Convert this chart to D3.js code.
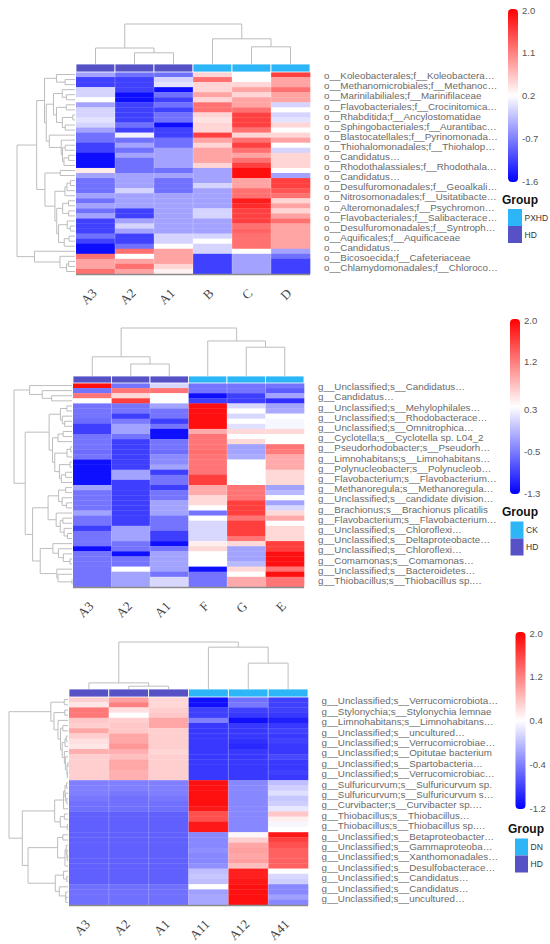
<!DOCTYPE html>
<html>
<head>
<meta charset="utf-8">
<script src="https://cdn.jsdelivr.net/npm/d3@7"></script>
<style>
body { margin: 0; background: #fff; }
</style>
</head>
<body>
<div id="chart"></div>
<script>
// ---------- data ----------
var cols1 = ['A3', 'A2', 'A1', 'B', 'C', 'D']
var groups1 = ['HD', 'HD', 'HD', 'PXHD', 'PXHD', 'PXHD']
var range1 = [-1.6, 2.0]
var ticks1 = [-1.6, -0.7, 0.2, 1.1, 2.0]
var colTree1 = [[0, [1, 2, 0.28], 0.40], [3, [4, 5, 0.43], 0.63], 1.0]
var labels1 = [
	'o__Koleobacterales;f__Koleobactera…',
	'o__Methanomicrobiales;f__Methanoc…',
	'o__Marinilabiliales;f__Marinifilaceae',
	'o__Flavobacteriales;f__Crocinitomica…',
	'o__Rhabditida;f__Ancylostomatidae',
	'o__Sphingobacteriales;f__Aurantibac…',
	'o__Blastocatellales;f__Pyrinomonada…',
	'o__Thiohalomonadales;f__Thiohalop…',
	'o__Candidatus…',
	'o__Rhodothalassiales;f__Rhodothala…',
	'o__Candidatus…',
	'o__Desulfuromonadales;f__Geoalkali…',
	'o__Nitrosomonadales;f__Usitatibacte…',
	'o__Alteromonadales;f__Psychromon…',
	'o__Flavobacteriales;f__Salibacterace…',
	'o__Desulfuromonadales;f__Syntroph…',
	'o__Aquificales;f__Aquificaceae',
	'o__Candidatus…',
	'o__Bicosoecida;f__Cafeteriaceae',
	'o__Chlamydomonadales;f__Chloroco…'
]
var values1 = [
	[-0.45, -0.8, -0.8, 0.5, 0.2, 1.55],
	[-1.15, -1.15, -0.1, 1.2, 0.2, 0.85],
	[-1.15, -1.15, 0.0, 0.5, 0.5, 0.85],
	[-0.1, -1.15, -1.5, 0.5, 0.85, 1.2],
	[-0.1, -1.5, -0.8, 0.85, 0.5, 0.85],
	[0.2, -1.5, -1.15, 0.5, 0.85, 0.85],
	[-0.45, -1.15, -0.8, 1.2, 0.85, -0.1],
	[-0.1, -1.15, -1.15, 1.2, 1.2, 0.2],
	[-0.1, -1.15, -0.8, 0.5, 1.55, -0.1],
	[0.0, -1.15, -0.8, 0.4, 1.55, 0.0],
	[-0.1, -0.8, -1.5, 0.5, 1.55, 0.5],
	[-0.45, -1.15, -1.15, 0.5, 1.2, 0.2],
	[-0.8, 0.1, -1.15, 1.55, 0.5, 0.5],
	[-0.8, -0.8, -0.8, 0.85, 1.2, 0.85],
	[-1.15, -0.45, -0.8, 0.5, 1.55, 0.2],
	[-1.15, -0.8, -0.45, 0.85, 1.2, -0.1],
	[-1.5, -0.45, -0.45, 0.85, 0.85, 0.5],
	[-1.5, -0.8, -0.45, 0.85, 1.2, 0.5],
	[-1.5, -0.8, -0.45, 0.5, 1.55, 0.5],
	[0.35, -0.8, -0.8, -0.45, 1.9, 0.2],
	[-0.45, -0.45, -0.45, -0.45, 1.9, -0.45],
	[-0.8, -0.45, -0.8, -0.45, 0.85, 1.55],
	[-0.8, -0.45, -0.8, -0.1, 0.85, 1.55],
	[-0.8, -0.1, -0.8, -0.45, 1.2, 1.4],
	[-0.45, -0.45, -0.45, -0.45, 1.2, 1.2],
	[-0.8, -0.45, -0.45, -0.45, 1.8, 0.5],
	[-0.45, -0.45, -0.45, -0.45, 1.7, 0.85],
	[-0.8, -1.15, -0.45, -0.1, 1.55, 0.5],
	[-0.45, -1.15, -0.45, -0.1, 1.55, 0.85],
	[-1.15, -0.45, -0.45, -0.45, 1.55, 1.2],
	[-1.15, -0.1, -0.45, -0.45, 1.2, 0.85],
	[-1.15, -0.45, -0.45, -0.45, 1.3, 0.85],
	[-0.8, -1.15, -0.1, -0.1, 1.2, 0.85],
	[-1.15, -1.15, -0.1, 0.2, 1.2, 0.85],
	[-1.5, -0.8, 0.2, -0.1, 1.2, 0.85],
	[-1.5, 1.2, 0.85, -0.1, 0.2, -0.45],
	[1.2, 0.2, 0.85, -1.15, -0.45, -0.8],
	[0.85, 0.85, 0.85, -1.15, -0.45, -1.15],
	[0.85, 1.2, 0.5, -1.15, -0.45, -1.15],
	[1.2, 0.85, 0.3, -1.15, -0.45, -1.15]
]

var cols2 = ['A3', 'A2', 'A1', 'F', 'G', 'E']
var groups2 = ['HD', 'HD', 'HD', 'CK', 'CK', 'CK']
var range2 = [-1.3, 2.0]
var ticks2 = [-1.3, -0.5, 0.3, 1.2, 2.0]
var colTree2 = [[0, [1, 2, 0.25], 0.40], [3, [4, 5, 0.60], 0.73], 1.0]
var labels2 = [
	'g__Unclassified;s__Candidatus…',
	'g__Candidatus…',
	'g__Unclassified;s__Mehylophilales…',
	'g__Unclassified;s__Rhodobacterace…',
	'g__Unclassified;s__Omnitrophica…',
	'g__Cyclotella;s__Cyclotella sp. L04_2',
	'g__Pseudorhodobacter;s__Pseudorh…',
	'g__Limnohabitans;s__Limnohabitans…',
	'g__Polynucleobacter;s__Polynucleob…',
	'g__Flavobacterium;s__Flavobacterium…',
	'g__Methanoregula;s__Methanoregula…',
	'g__Unclassified;s__candidate division…',
	'g__Brachionus;s__Brachionus plicatilis',
	'g__Flavobacterium;s__Flavobacterium…',
	'g__Unclassified;s__Chloroflexi…',
	'g__Unclassified;s__Deltaproteobacte…',
	'g__Unclassified;s__Chloroflexi…',
	'g__Comamonas;s__Comamonas…',
	'g__Unclassified;s__Bacteroidetes…',
	'g__Thiobacillus;s__Thiobacillus sp.…'
]
var values2 = [
	[1.9, -0.55, 0.1, -0.55, -0.55, -0.55],
	[-0.55, 1.25, 1.25, -0.55, -0.55, -0.7],
	[1.25, 0.6, 0.35, -1.2, -0.9, -0.25],
	[0.35, 1.6, 0.35, -0.9, -0.9, -1.0],
	[-0.55, -0.55, -0.25, 1.9, 0.1, -0.25],
	[-0.55, -0.55, -0.55, 1.9, 0.35, -0.2],
	[-0.55, -0.9, -0.55, 1.9, 0.1, 0.35],
	[-0.6, -0.5, -0.9, 1.9, 0.35, 0.3],
	[-0.9, -0.25, -0.55, 1.9, 0.15, 0.3],
	[-0.9, -0.25, -1.2, 0.9, 0.6, 0.6],
	[-0.55, -0.55, -1.2, 1.25, 0.35, 0.35],
	[-0.55, -0.9, -0.55, 1.25, 0.6, 0.35],
	[-0.55, -0.9, -0.55, 1.25, -0.25, 1.25],
	[-0.6, -0.9, -0.6, 1.3, -0.25, 1.2],
	[-0.55, -0.9, -0.4, 1.25, -0.2, 0.9],
	[-1.2, -0.9, -0.4, 1.25, 0.35, 0.9],
	[-1.2, -0.9, -0.25, 1.25, 0.35, 0.9],
	[-1.2, -0.25, -0.9, 1.25, 0.35, 0.6],
	[-1.2, -0.25, -0.55, 1.6, 0.35, 0.6],
	[-1.2, -0.9, -0.55, 1.6, 0.35, 0.6],
	[-0.25, -0.9, -0.9, 0.9, 1.25, -0.25],
	[-0.55, -0.9, -0.55, 0.9, 1.25, -0.1],
	[-0.55, -0.9, -0.55, 0.6, 1.25, 0.35],
	[-0.55, -0.9, -0.25, 0.6, 1.6, -0.25],
	[-0.55, -0.9, -0.25, 0.35, 1.6, 0.1],
	[-0.25, -0.9, -0.25, -0.55, 1.6, 0.6],
	[-0.55, -0.9, -0.55, 0.35, 1.25, 0.9],
	[-0.55, -0.9, -0.55, 0.1, 1.6, 0.35],
	[-0.9, -0.25, -0.55, 0.1, 1.6, 0.6],
	[-0.55, -0.25, -0.9, 0.1, 1.6, 0.6],
	[-0.55, -0.25, -0.9, 0.1, 1.25, 0.6],
	[-0.55, -0.55, -1.2, 0.45, 0.6, 1.6],
	[-1.2, -0.55, -0.55, 0.6, -0.25, 1.6],
	[-0.55, -1.2, -0.25, 0.35, -0.25, 1.9],
	[-0.55, -0.55, -0.25, 0.35, -0.25, 1.9],
	[-0.55, -0.55, -0.25, 0.35, -0.1, 1.9],
	[-0.55, 0.35, -0.25, -1.2, 0.6, 1.25],
	[-0.55, -0.25, -0.55, -0.55, 0.35, 1.9],
	[-0.55, -0.25, 0.1, -0.55, 0.9, 1.25],
	[-0.55, -0.25, 0.1, -0.55, 0.9, 1.25]
]

var cols3 = ['A3', 'A2', 'A1', 'A11', 'A12', 'A41']
var groups3 = ['HD', 'HD', 'HD', 'DN', 'DN', 'DN']
var range3 = [-1.2, 2.0]
var ticks3 = [-1.2, -0.4, 0.4, 1.2, 2.0]
var colTree3 = [[0, [1, 2, 0.06], 0.13], [3, [4, 5, 0.55], 0.89], 1.0]
var labels3 = [
	'g__Unclassified;s__Verrucomicrobiota…',
	'g__Stylonychia;s__Stylonychia lemnae',
	'g__Limnohabitans;s__Limnohabitans…',
	'g__Unclassified;s__uncultured…',
	'g__Unclassified;s__Verrucomicrobiae…',
	'g__Unclassified;s__Opitutae bacterium',
	'g__Unclassified;s__Spartobacteria…',
	'g__Unclassified;s__Verrucomicrobiac…',
	'g__Sulfuricurvum;s__Sulfuricurvum sp.',
	'g__Sulfuricurvum;s__Sulfuricurvum s…',
	'g__Curvibacter;s__Curvibacter sp.…',
	'g__Thiobacillus;s__Thiobacillus…',
	'g__Thiobacillus;s__Thiobacillus sp.…',
	'g__Unclassified;s__Betaproteobacter…',
	'g__Unclassified;s__Gammaproteoba…',
	'g__Unclassified;s__Xanthomonadales…',
	'g__Unclassified;s__Desulfobacterace…',
	'g__Unclassified;s__Candidatus…',
	'g__Unclassified;s__Candidatus…',
	'g__Unclassified;s__uncultured…'
]
var values3 = [
	[0.7, 1.0, 0.65, -1.1, -0.5, -0.8],
	[0.55, 1.2, 0.65, -1.1, -0.45, -0.8],
	[1.25, 0.6, 0.7, -0.8, -0.8, -0.8],
	[1.25, 0.4, 0.75, -0.8, -0.85, -0.85],
	[0.75, 0.7, 0.95, -0.4, -1.1, -1.0],
	[0.7, 0.75, 0.95, -0.85, -0.85, -0.85],
	[0.95, 0.75, 0.7, -0.85, -0.85, -0.8],
	[0.7, 0.95, 0.7, -0.85, -0.85, -0.85],
	[0.6, 0.95, 0.7, -0.85, -0.9, -0.8],
	[0.55, 1.05, 0.7, -0.85, -0.95, -0.85],
	[0.9, 0.9, 0.65, -0.85, -0.85, -0.85],
	[0.7, 0.8, 0.7, -0.85, -0.85, -0.75],
	[0.7, 0.95, 0.7, -0.85, -0.85, -0.85],
	[0.7, 0.95, 0.7, -0.85, -0.85, -0.85],
	[0.7, 0.9, 0.7, -0.85, -0.85, -0.8],
	[0.7, 0.9, 0.7, -0.85, -0.85, -0.85],
	[-0.4, -0.4, -0.4, 1.9, -0.35, 0.0],
	[-0.4, -0.4, -0.4, 1.9, -0.35, 0.1],
	[-0.4, -0.45, -0.4, 1.9, -0.35, 0.2],
	[-0.45, -0.5, -0.45, 1.9, -0.35, 0.05],
	[-0.5, -0.5, -0.5, 1.9, -0.35, 0.1],
	[-0.5, -0.5, -0.5, 1.85, -0.35, 0.25],
	[-0.6, -0.6, -0.6, 1.5, -0.35, 0.75],
	[-0.6, -0.6, -0.6, 1.5, -0.35, 0.5],
	[-0.6, -0.6, -0.6, 1.85, -0.35, 0.35],
	[-0.6, -0.6, -0.6, 1.85, -0.35, 0.4],
	[-0.6, -0.6, -0.6, -0.35, 0.45, 1.85],
	[-0.6, -0.6, -0.6, -0.35, 0.7, 1.6],
	[-0.6, -0.6, -0.6, -0.35, 0.95, 1.5],
	[-0.6, -0.6, -0.6, -0.3, 1.0, 1.4],
	[-0.6, -0.6, -0.6, -0.35, 0.95, 1.4],
	[-0.6, -0.6, -0.6, -0.35, 1.0, 1.4],
	[-0.6, -0.6, -0.6, -0.3, 0.8, 1.4],
	[-0.6, -0.6, -0.6, 0.0, 1.8, 0.4],
	[-0.6, -0.6, -0.6, 0.05, 1.8, 0.15],
	[-0.6, -0.6, -0.6, 0.0, 1.85, 0.1],
	[-0.5, -0.5, -0.5, 0.4, 1.9, -0.35],
	[-0.5, -0.5, -0.5, -0.2, 1.9, -0.35],
	[-0.5, -0.5, -0.5, -0.15, 1.9, -0.2],
	[-0.5, -0.5, -0.5, -0.15, 1.9, -0.35]
]

var groupColor = { HD: '#5652c6', PXHD: '#2db6f7', CK: '#2db6f7', DN: '#2db6f7' }

// ---------- layout (pixels) ----------
var w = 550
var h = 944

var panels = [
	{ cols: cols1, groups: groups1, range: range1, ticks: ticks1, colTree: colTree1, labels: labels1, values: values1,
		x0: 76, x1: 310, colRoot: 24, gTop: 64, top: 72, bottom: 274, rowRoot: 17, labelX: 324,
		cbX: 508, cbTop: 10, cbBot: 181, legX: 502, legY: 200, boxX: 508, boxY: 209, boxW: 14 },
	{ cols: cols2, groups: groups2, range: range2, ticks: ticks2, colTree: colTree2, labels: labels2, values: values2,
		x0: 73, x1: 304, colRoot: 328, gTop: 376, top: 383, bottom: 587, rowRoot: 14, labelX: 318,
		cbX: 510, cbTop: 320, cbBot: 493, legX: 502, legY: 512, boxX: 510.5, boxY: 521.5, boxW: 13 },
	{ cols: cols3, groups: groups3, range: range3, ticks: ticks3, colTree: colTree3, labels: labels3, values: values3,
		x0: 69, x1: 308, colRoot: 642, gTop: 689, top: 697, bottom: 905, rowRoot: 9, labelX: 321.5,
		cbX: 515.5, cbTop: 633, cbBot: 808, legX: 508, legY: 829, boxX: 515, boxY: 838.5, boxW: 13 }
]

var svg = d3.select('#chart')
	.append('svg')
	.attr('width', w)
	.attr('height', h)

var defs = svg.append('defs')

// nested [left, right, height] -> node
function fromArr(a) {
	if (typeof a === 'number') return { idx: a, h: 0 }
	return { children: [fromArr(a[0]), fromArr(a[1])], h: a[2] }
}

// order-preserving complete-linkage clustering of the rows
function clusterRows(values) {
	var dist = function(a, b) {
		return Math.sqrt(d3.sum(a, function(v, k) { return (v - b[k]) * (v - b[k]) }))
	}
	var nodes = values.map(function(v, i) { return { idx: i, h: 0, members: [i] } })
	while (nodes.length > 1) {
		var best = 0, bestD = Infinity
		for (var i = 0; i < nodes.length - 1; i++) {
			var d = 0
			nodes[i].members.forEach(function(a) {
				nodes[i + 1].members.forEach(function(b) {
					d = Math.max(d, dist(values[a], values[b]))
				})
			})
			if (d < bestD) { bestD = d; best = i }
		}
		var l = nodes[best], r = nodes[best + 1]
		var m = { children: [l, r], h: Math.max(bestD, l.h, r.h), members: l.members.concat(r.members) }
		nodes.splice(best, 2, m)
	}
	return nodes[0]
}

// elbow segments; pos(leaf) from the band scale, hs maps height -> pixel
function treePaths(node, pos, hs, vertical) {
	var out = []
	function walk(n) {
		if (!n.children) { n.p = pos(n.idx); return }
		walk(n.children[0]); walk(n.children[1])
		var a = n.children[0], b = n.children[1]
		n.p = (a.p + b.p) / 2
		if (vertical) {
			out.push('M' + a.p + ',' + hs(a.h) + 'V' + hs(n.h) + 'H' + b.p + 'V' + hs(b.h))
		} else {
			out.push('M' + hs(a.h) + ',' + a.p + 'H' + hs(n.h) + 'V' + b.p + 'H' + hs(b.h))
		}
	}
	walk(node)
	return out
}

function drawPanel(p, k) {
	var g = svg.append('g')
	var nRows = p.values.length

	var xScale = d3.scaleBand()
		.domain(d3.range(p.cols.length))
		.range([p.x0, p.x1])
	var yScale = d3.scaleBand()
		.domain(d3.range(nRows))
		.range([p.top, p.bottom])

	var mid = (p.range[0] + p.range[1]) / 2
	var color = d3.scaleLinear()
		.domain([p.range[0], mid, p.range[1]])
		.range(['#0000ff', '#ffffff', '#ff0000'])
		.clamp(true)

	// cells
	var cells = []
	p.values.forEach(function(row, i) {
		row.forEach(function(v, j) { cells.push({ i: i, j: j, v: v }) })
	})
	g.selectAll('rect.cell')
		.data(cells)
		.enter()
		.append('rect')
		.attr('class', 'cell')
		.attr('x', function(d) { return xScale(d.j) })
		.attr('y', function(d) { return yScale(d.i) })
		.attr('width', xScale.bandwidth() + 0.3)
		.attr('height', yScale.bandwidth() + 0.3)
		.attr('fill', function(d) { return color(d.v) })

	// faint column separators
	g.selectAll('line.sep')
		.data(d3.range(1, p.cols.length))
		.enter()
		.append('line')
		.attr('x1', function(d) { return xScale(d) })
		.attr('x2', function(d) { return xScale(d) })
		.attr('y1', p.top)
		.attr('y2', p.bottom)
		.attr('stroke', '#fff')
		.attr('stroke-opacity', 0.3)
		.attr('stroke-width', 0.8)

	// group bar
	g.selectAll('rect.grp')
		.data(p.groups)
		.enter()
		.append('rect')
		.attr('x', function(d, j) { return xScale(j) })
		.attr('y', p.gTop)
		.attr('width', xScale.bandwidth())
		.attr('height', p.top - p.gTop)
		.attr('fill', function(d) { return groupColor[d] })
		.attr('stroke', '#fff')
		.attr('stroke-width', 0.8)

	// bottom edge
	g.append('line')
		.attr('x1', p.x0).attr('x2', p.x1)
		.attr('y1', p.bottom + 0.5).attr('y2', p.bottom + 0.5)
		.attr('stroke', '#8a8a8a')
		.attr('stroke-width', 1.4)

	// column dendrogram
	var colRoot = fromArr(p.colTree)
	var colH = d3.scaleLinear().domain([0, colRoot.h]).range([p.gTop, p.colRoot])
	g.selectAll('path.cd')
		.data(treePaths(colRoot, function(j) { return xScale(j) + xScale.bandwidth() / 2 }, colH, true))
		.enter()
		.append('path')
		.attr('d', function(d) { return d })
		.attr('fill', 'none')
		.attr('stroke', '#bdbdbd')
		.attr('stroke-width', 1)

	// row dendrogram
	var rowRoot = clusterRows(p.values)
	var rowH = d3.scaleLinear().domain([0, rowRoot.h]).range([p.x0 - 1, p.rowRoot])
	g.selectAll('path.rd')
		.data(treePaths(rowRoot, function(i) { return yScale(i) + yScale.bandwidth() / 2 }, rowH, false))
		.enter()
		.append('path')
		.attr('d', function(d) { return d })
		.attr('fill', 'none')
		.attr('stroke', '#bdbdbd')
		.attr('stroke-width', 1)

	// row labels (every other row)
	g.selectAll('text.rl')
		.data(p.labels)
		.enter()
		.append('text')
		.attr('x', p.labelX)
		.attr('y', function(d, i) { return yScale(i * 2) + yScale.bandwidth() / 2 + 1.2 })
		.attr('dominant-baseline', 'central')
		.attr('font-family', 'Liberation Sans, Arial, sans-serif')
		.attr('font-size', 9.8)
		.attr('fill', '#6a6a6a')
		.text(function(d) { return d })

	// column labels
	g.selectAll('text.cl')
		.data(p.cols)
		.enter()
		.append('text')
		.attr('transform', function(d, j) {
			return 'translate(' + (xScale(j) + xScale.bandwidth() / 2 + 2) + ',' + (p.bottom + 20) + ') rotate(-45)'
		})
		.attr('text-anchor', 'end')
		.attr('font-family', 'Liberation Serif, Times New Roman, serif')
		.attr('font-size', 13)
		.attr('fill', '#444')
		.text(function(d) { return d })

	// colour bar
	var gradId = 'grad' + k
	var grad = defs.append('linearGradient')
		.attr('id', gradId)
		.attr('x1', 0).attr('y1', 1).attr('x2', 0).attr('y2', 0)
	grad.selectAll('stop')
		.data([0, 0.5, 1])
		.enter()
		.append('stop')
		.attr('offset', function(d) { return d })
		.attr('stop-color', function(d) { return color(p.range[0] + d * (p.range[1] - p.range[0])) })

	g.append('rect')
		.attr('x', p.cbX)
		.attr('y', p.cbTop - 1)
		.attr('width', 10)
		.attr('height', p.cbBot - p.cbTop + 2)
		.attr('rx', 4)
		.attr('fill', 'url(#' + gradId + ')')

	var cbScale = d3.scaleLinear().domain(p.range).range([p.cbBot, p.cbTop])
	var cbAxis = d3.axisRight(cbScale)
		.tickValues(p.ticks)
		.tickSize(0)
		.tickPadding(4)
		.tickFormat(function(d) { return d.toFixed(1) })
	var ax = g.append('g')
		.attr('transform', 'translate(' + (p.cbX + 10) + ',0)')
		.call(cbAxis)
	ax.select('.domain').remove()
	ax.selectAll('text')
		.attr('font-family', 'Liberation Sans, Arial, sans-serif')
		.attr('font-size', 9.5)
		.attr('fill', '#555')

	// group legend
	g.append('text')
		.attr('x', p.legX)
		.attr('y', p.legY)
		.attr('dominant-baseline', 'central')
		.attr('font-family', 'Liberation Sans, Arial, sans-serif')
		.attr('font-weight', 'bold')
		.attr('font-size', 12)
		.attr('fill', '#111')
		.text('Group')

	var legItems = [p.groups[p.groups.length - 1], p.groups[0]]
	var boxH = 17
	g.selectAll('rect.leg')
		.data(legItems)
		.enter()
		.append('rect')
		.attr('x', p.boxX)
		.attr('y', function(d, i) { return p.boxY + i * boxH })
		.attr('width', p.boxW)
		.attr('height', boxH)
		.attr('fill', function(d) { return groupColor[d] })
	g.selectAll('text.leg')
		.data(legItems)
		.enter()
		.append('text')
		.attr('x', p.boxX + p.boxW + 2.5)
		.attr('y', function(d, i) { return p.boxY + i * boxH + boxH / 2 })
		.attr('dominant-baseline', 'central')
		.attr('font-family', 'Liberation Sans, Arial, sans-serif')
		.attr('font-size', 8.5)
		.attr('fill', '#333')
		.text(function(d) { return d })
}

panels.forEach(drawPanel)
</script>
</body>
</html>
